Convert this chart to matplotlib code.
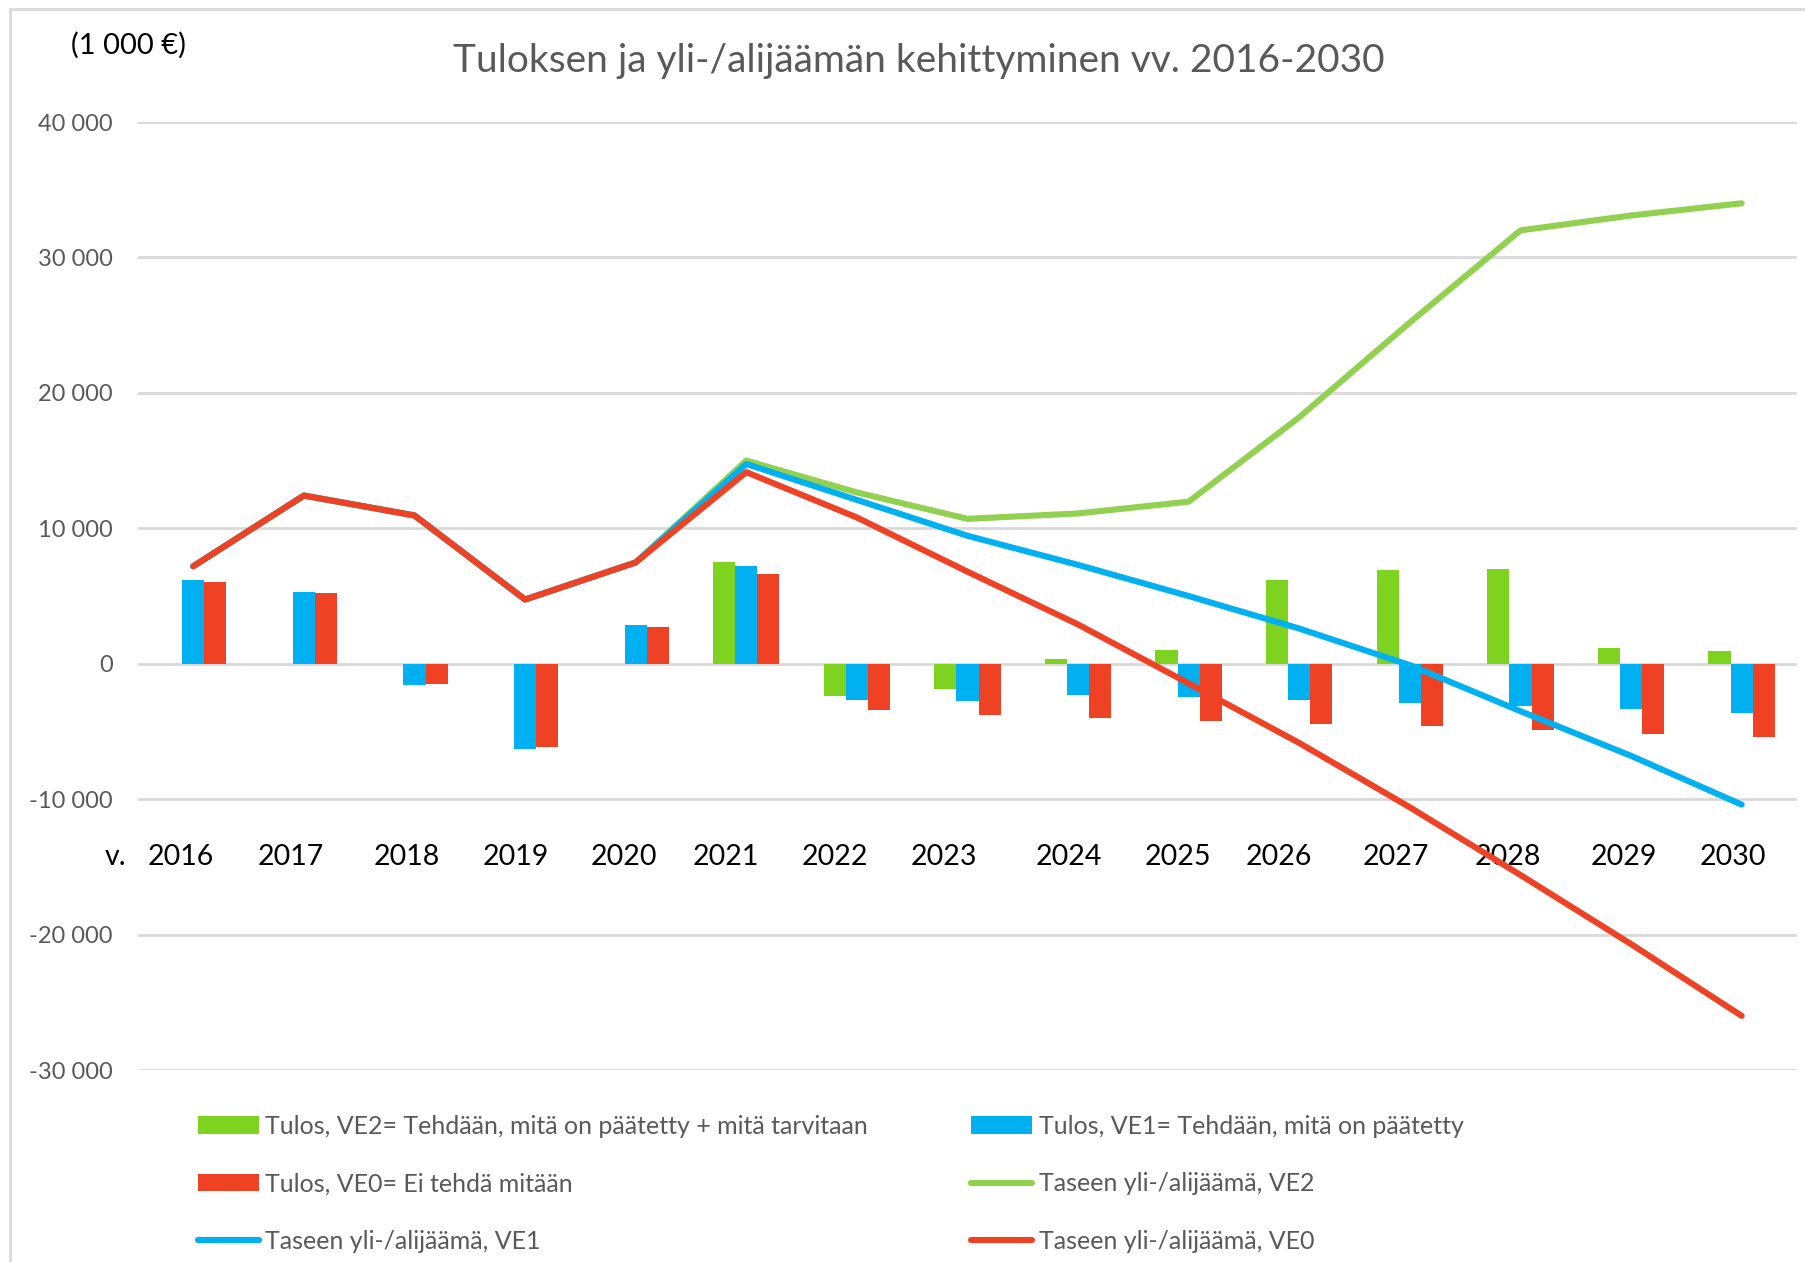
import numpy as np
import matplotlib
matplotlib.use("Agg")
import matplotlib.pyplot as plt
from matplotlib.patches import Rectangle
from matplotlib.ticker import FuncFormatter

plt.rcParams['font.family'] = ['Lato', 'DejaVu Sans']

years = ["2016", "2017", "2018", "2019", "2020", "2021", "2022", "2023",
         "2024", "2025", "2026", "2027", "2028", "2029", "2030"]

# Tulos (bars)
tulos_ve2 = [np.nan, np.nan, np.nan, np.nan, np.nan, 7500, -2350, -1900,
             380, 1020, 6150, 6920, 7030, 1130, 930]
tulos_ve1 = [6150, 5300, -1600, -6280, 2850, 7250, -2680, -2780,
             -2300, -2480, -2700, -2910, -3100, -3320, -3650]
tulos_ve0 = [6050, 5230, -1520, -6160, 2740, 6630, -3450, -3770,
             -4000, -4200, -4420, -4620, -4880, -5190, -5400]

# Taseen yli-/alijäämä (lines)
tase_ve2 = [7200, 12420, 10950, 4740, 7480, 15000, 12650, 10700,
            11100, 11970, 18200, 25200, 32000, 33100, 34000]
tase_ve1 = [7200, 12420, 10950, 4740, 7480, 14750, 12100, 9450,
            7300, 5000, 2600, -100, -3500, -6800, -10400]
tase_ve0 = [7200, 12420, 10950, 4740, 7480, 14150, 10800, 6800,
            2900, -1450, -5850, -10600, -15600, -20700, -26000]

labels = ["Tulos, VE2= Tehdään, mitä on päätetty + mitä tarvitaan",
          "Tulos, VE1= Tehdään, mitä on päätetty",
          "Tulos, VE0= Ei tehdä mitään",
          "Taseen yli-/alijäämä, VE2",
          "Taseen yli-/alijäämä, VE1",
          "Taseen yli-/alijäämä, VE0"]

title = "Tuloksen ja yli-/alijäämän kehittyminen vv. 2016-2030"
unit = "(1 000 €)"

# layout: hand-placed year labels are slightly shifted left of each category
label_shift = [-0.11, -0.12, -0.067, -0.081, -0.107, -0.185, -0.195, -0.21,
               -0.084, -0.097, -0.185, -0.127, -0.116, -0.066, -0.078]

c_bar_green = "#7ED321"
c_line_green = "#92D050"
c_blue = "#00B0F0"
c_red = "#EF4123"
c_grid = "#D9D9D9"
c_text = "#595959"

fig = plt.figure(figsize=(18.06, 12.62), dpi=100)
ax = fig.add_axes([0.0764, 0.1521, 0.9186, 0.7512])

x = np.arange(len(years))
w = 0.2
b2 = ax.bar(x - w, tulos_ve2, w, color=c_bar_green, zorder=2)
b1 = ax.bar(x, tulos_ve1, w, color=c_blue, zorder=2)
b0 = ax.bar(x + w, tulos_ve0, w, color=c_red, zorder=2)

lw = 4.4
kw = dict(lw=lw, solid_capstyle='round', solid_joinstyle='round')
l2, = ax.plot(x, tase_ve2, color=c_line_green, zorder=3, **kw)
l1, = ax.plot(x, tase_ve1, color=c_blue, zorder=4, **kw)
l0, = ax.plot(x, tase_ve0, color=c_red, zorder=5, **kw)

ax.set_xlim(-0.5, len(years) - 0.5)
ax.set_ylim(-30000, 40000)
ax.set_yticks(np.arange(-30000, 40001, 10000))
ax.yaxis.set_major_formatter(FuncFormatter(lambda v, p: f"{int(v):,}".replace(",", " ")))
ax.tick_params(axis='y', length=0, pad=18, labelsize=17, labelcolor=c_text)
ax.set_xticks([])
ax.grid(axis='y', color=c_grid, lw=2, zorder=0)
ax.set_axisbelow(True)
for s in ax.spines.values():
    s.set_visible(False)

# Category labels drawn inside the plot area
for i, yr in enumerate(years):
    ax.text(i + label_shift[i], -14300, yr, ha='center', va='center', fontsize=20.5, color='black')
ax.text(-0.70, -14300, "v.", ha='center', va='center', fontsize=20.5, color='black')

fig.text(0.509, 0.952, title, ha='center', va='center', fontsize=28, color=c_text)
fig.text(0.0714, 0.964, unit, ha='center', va='center', fontsize=21, color='black')

# Outer chart frame
fig.patches.append(Rectangle((0.0055, -0.05), 1.1, 1.043, transform=fig.transFigure,
                             fill=False, edgecolor=c_grid, lw=2))

common = dict(frameon=False, fontsize=18, labelcolor=c_text, handlelength=2.45,
              handletextpad=0.25, labelspacing=1.38, borderpad=0, borderaxespad=0,
              loc='upper left')
leg1 = fig.legend([b2, b0, l1], [labels[0], labels[2], labels[4]],
                  bbox_to_anchor=(0.1096, 0.1165), **common)
leg2 = fig.legend([b1, l2, l0], [labels[1], labels[3], labels[5]],
                  bbox_to_anchor=(0.5377, 0.1165), **common)

fig.savefig("out.png", dpi=100)
